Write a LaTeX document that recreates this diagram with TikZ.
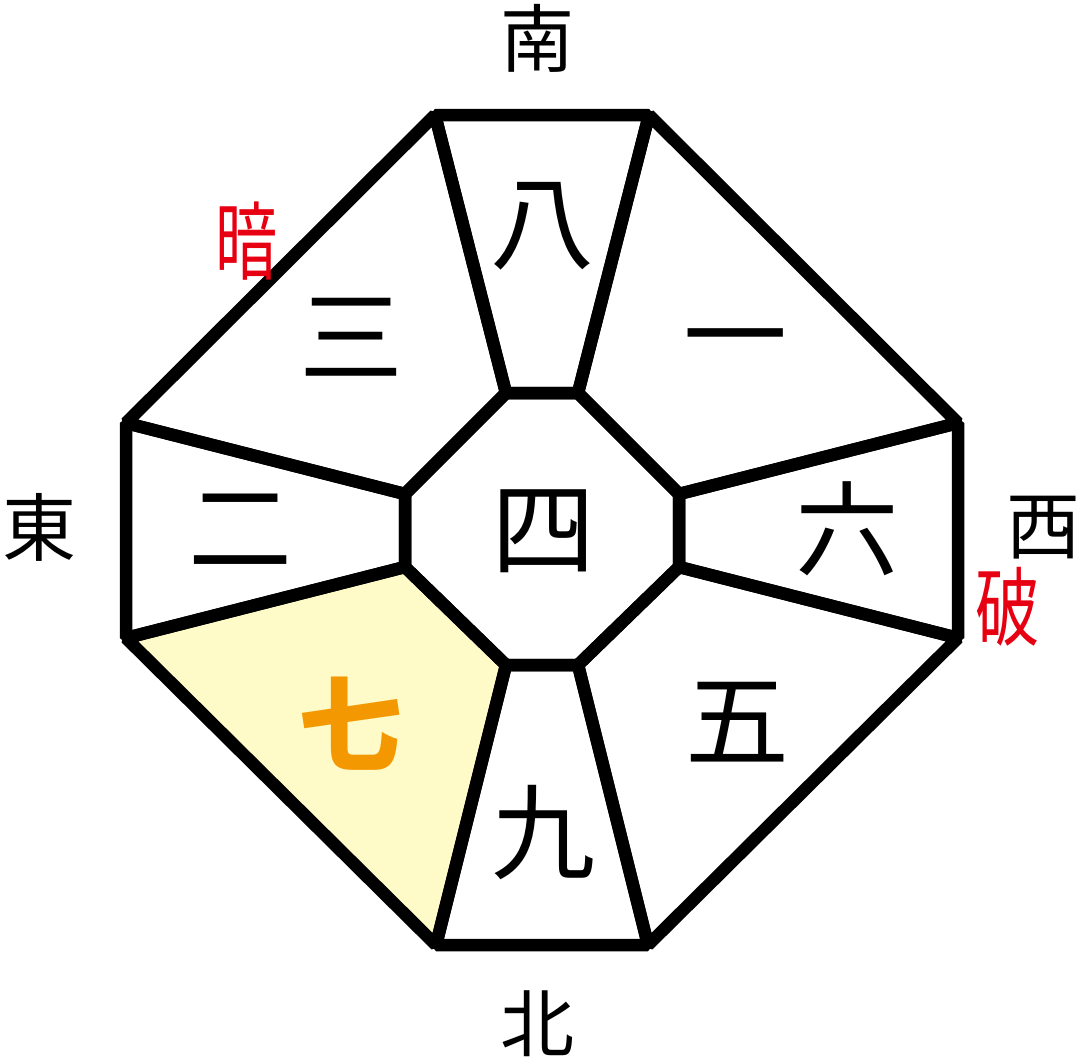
\documentclass[tikz,border=0pt]{standalone}
\usepackage{fontspec}
\newfontfamily\cjk{Noto Sans CJK JP}
\definecolor{kyellow}{RGB}{255,251,200}
\definecolor{korange}{RGB}{243,152,0}
\definecolor{kred}{RGB}{230,0,18}
\tikzset{
  edge/.style={draw=black, line width=12.5pt, line join=bevel, line cap=butt},
  num/.style={inner sep=0pt, font=\cjk\fontsize{104}{104}\selectfont},
  dir/.style={inner sep=0pt, font=\cjk\fontsize{74}{74}\selectfont},
  redtxt/.style={inner sep=0pt, text=kred, font=\cjk\fontsize{86}{86}\selectfont},
  hi/.style={inner sep=0pt, text=korange, font=\cjk\bfseries\fontsize{104}{104}\selectfont}
}
\begin{document}
\begin{tikzpicture}[x=1pt,y=-1pt]
\useasboundingbox (0,0) rectangle (1083,1063);
% outer vertices
\coordinate (T1) at (435,115);
\coordinate (T2) at (649,115);
\coordinate (R1) at (958,423);
\coordinate (R2) at (958,638);
\coordinate (B2) at (648,945);
\coordinate (B1) at (436,945);
\coordinate (L2) at (126,638);
\coordinate (L1) at (126,423);
% inner vertices
\coordinate (I1) at (506,393);
\coordinate (I2) at (578,393);
\coordinate (I3) at (679,494);
\coordinate (I4) at (679,567);
\coordinate (I5) at (578,665);
\coordinate (I6) at (506,665);
\coordinate (I7) at (405,567);
\coordinate (I8) at (405,494);
% highlighted sector
\fill[kyellow] (L2) -- (I7) -- (I6) -- (B1) -- cycle;
% sectors
\draw[edge] (T1) -- (T2) -- (I2) -- (I1) -- cycle;
\draw[edge] (T2) -- (R1) -- (I3) -- (I2) -- cycle;
\draw[edge] (R1) -- (R2) -- (I4) -- (I3) -- cycle;
\draw[edge] (R2) -- (B2) -- (I5) -- (I4) -- cycle;
\draw[edge] (B2) -- (B1) -- (I6) -- (I5) -- cycle;
\draw[edge] (B1) -- (L2) -- (I7) -- (I6) -- cycle;
\draw[edge] (L2) -- (L1) -- (I8) -- (I7) -- cycle;
\draw[edge] (L1) -- (T1) -- (I1) -- (I8) -- cycle;
\draw[edge] (I1) -- (I2) -- (I3) -- (I4) -- (I5) -- (I6) -- (I7) -- (I8) -- cycle;
% numbers
\node[num] (n8) at (542,226) {八};
\node[num] (n1) at (735,351) {一};
\node[num] (n6) at (847,529) {六};
\node[num] (n5) at (737,722) {五};
\node[num] (n9) at (543,833) {九};
\node[hi]  (n7) at (350,724) {七};
\node[num] (n2) at (240,530) {二};
\node[num] (n3) at (351,337) {三};
\node[num] (n4) at (543,531) {四};
% directions
\node[dir] (south) at (537,38) {南};
\node[dir] (west) at (1043,528) {西};
\node[dir] (north) at (537,1024) {北};
\node[dir] (east) at (39,527) {東};
% red marks
\node[redtxt] (an) at (246,241) {\scalebox{0.72}[1]{暗}};
\node[redtxt] (ha) at (1008,607) {\scalebox{0.75}[1]{破}};
\end{tikzpicture}
\end{document}
